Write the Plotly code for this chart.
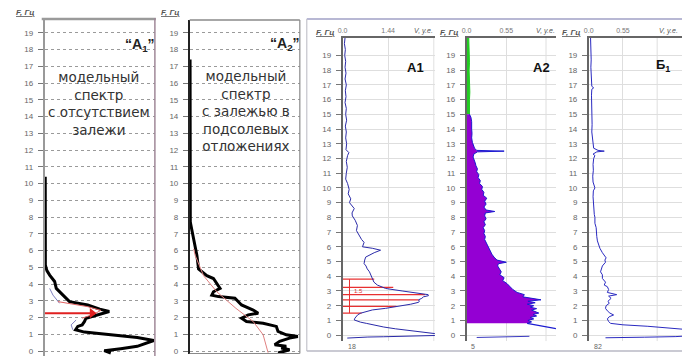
import plotly.graph_objects as go

W, H = 682, 358
def px(x): return x / W
def py(y): return 1 - y / H

FONT = "Liberation Sans, Arial, sans-serif"
F_TICKS = list(range(20))

# ---- Model spectrum "A1" (V relative, F Hz)
a1m_F = [10.4, 5.12, 4.8, 4.53, 4.15, 3.95, 3.74, 3.44, 2.95, 2.75, 2.5, 2.36, 2.16, 1.96, 1.75, 1.56, 1.47, 1.27, 1.13, 0.93, 0.81, 0.63, 0.37, 0.28, 0.14, 0.02, -0.12]
a1m_V = [0.005, 0.006, 0.02, 0.045, 0.09, 0.10, 0.105, 0.15, 0.225, 0.39, 0.50, 0.586, 0.48, 0.375, 0.36, 0.34, 0.30, 0.28, 0.36, 0.69, 0.84, 0.99, 0.886, 0.84, 0.69, 0.54, 0.60]
a1m_red_F = [2.95, 2.65, 2.43, 2.21, 1.96]
a1m_red_V = [0.12, 0.39, 0.51, 0.45, 0.34]
a1m_blu1_F = [3.74, 3.34, 2.85]
a1m_blu1_V = [0.045, 0.075, 0.135]
a1m_blu2_F = [1.85, 1.56, 1.27]
a1m_blu2_V = [0.285, 0.24, 0.255]
a1m_arrow_F = [2.26, 2.26]
a1m_arrow_V = [0.0, 0.43]

# ---- Model spectrum "A2"
a2m_F = [17.4, 7.7, 6.9, 6.3, 5.7, 4.9, 4.5, 4.33, 3.74, 3.54, 3.34, 3.25, 3.15, 2.75, 2.45, 2.26, 2.16, 1.96, 1.76, 1.66, 1.47, 1.17, 0.97, 0.87, 0.77, 0.58, 0.37, 0.28, 0.18, 0.08, -0.12]
a2m_V = [0.004, 0.006, 0.03, 0.05, 0.066, 0.081, 0.156, 0.216, 0.276, 0.216, 0.201, 0.261, 0.411, 0.471, 0.577, 0.622, 0.532, 0.471, 0.516, 0.667, 0.787, 0.802, 0.877, 0.982, 0.907, 0.817, 0.772, 0.877, 0.832, 0.907, 0.802]
a2m_fit_F = [6.1, 5.7, 4.5, 3.54, 2.55, 1.76, 0.97, -0.1]
a2m_fit_V = [0.036, 0.051, 0.126, 0.246, 0.42, 0.577, 0.667, 0.712]

# ---- Observed A1
a1_F = [20.2, 19.8, 19.4, 19.0, 18.6, 18.2, 17.8, 17.4, 17.0, 16.6, 16.2, 15.8, 15.4, 15.0, 14.6, 14.2, 13.8, 13.4, 13.0, 12.6, 12.4, 12.2, 11.8, 11.4, 11.0, 10.6, 10.3, 9.9, 9.6, 9.26, 9.0, 8.6, 8.3, 8.1, 7.8, 7.45, 7.1, 6.78, 6.5, 6.3, 6.0, 5.9, 5.77, 5.6, 5.4, 5.3, 5.1, 4.86, 4.7, 4.5, 4.3, 4.07, 3.85, 3.6, 3.4, 3.17, 3.0, 2.84, 2.75, 2.68, 2.6, 2.5, 2.4, 2.3, 2.23, 2.1, 2.0, 1.82, 1.71, 1.6, 1.49, 1.38, 1.26, 1.15, 1.03, 0.95, 0.88, 0.8, 0.7, 0.55, 0.43, 0.35, 0.29, 0.2, 0.14, 0.08, -0.02, -0.06, -0.09, -0.11, -0.13, -0.15, -0.2]
a1_V = [0.08, 0.06, 0.09, 0.07, 0.10, 0.08, 0.11, 0.08, 0.12, 0.09, 0.11, 0.08, 0.12, 0.10, 0.13, 0.09, 0.12, 0.10, 0.13, 0.11, 0.20, 0.16, 0.12, 0.15, 0.12, 0.10, 0.16, 0.21, 0.18, 0.26, 0.22, 0.37, 0.30, 0.31, 0.40, 0.47, 0.44, 0.52, 0.60, 0.68, 0.63, 0.94, 1.20, 1.00, 0.80, 0.73, 0.70, 0.68, 0.74, 0.78, 0.85, 0.89, 0.94, 0.99, 1.10, 1.36, 1.88, 2.50, 2.70, 2.71, 2.55, 2.50, 2.40, 2.42, 2.40, 2.15, 1.88, 1.36, 0.94, 0.72, 0.57, 0.48, 0.42, 0.39, 0.37, 0.45, 0.57, 0.75, 0.94, 1.30, 1.67, 1.95, 2.19, 2.55, 2.85, 3.0, 3.0, 2.5, 1.9, 1.3, 0.8, 0.35, 0.15]
a1_red_F = [3.8, 3.25, 2.75, 2.4, 1.95, 1.5]
a1_red_V = [1.0, 1.6, 2.6, 2.4, 1.7, 0.6]

# ---- Observed A2
a2_green_F = [20.2, 19.5, 19.0, 18.5, 18.0, 17.5, 17.0, 16.5, 16.0, 15.5, 15.0]
a2_green_V = [0.03, 0.035, 0.03, 0.04, 0.035, 0.04, 0.035, 0.045, 0.04, 0.045, 0.04]
a2_F = [15.0, 14.8, 14.5, 14.2, 14.0, 13.7, 13.4, 13.1, 12.9, 12.7, 12.55, 12.5, 12.45, 12.3, 12.1, 11.9, 11.7, 11.5, 11.3, 11.1, 10.9, 10.7, 10.5, 10.3, 10.1, 9.9, 9.7, 9.5, 9.3, 9.1, 8.9, 8.7, 8.5, 8.4, 8.3, 8.1, 7.9, 7.7, 7.5, 7.3, 7.1, 6.9, 6.7, 6.5, 6.3, 6.1, 5.9, 5.7, 5.5, 5.3, 5.1, 4.95, 4.85, 4.7, 4.5, 4.3, 4.1, 3.9, 3.7, 3.5, 3.3, 3.1, 2.9, 2.75, 2.6, 2.5, 2.4, 2.3, 2.2, 2.1, 2.0, 1.9, 1.8, 1.7, 1.6, 1.5, 1.4, 1.3, 1.2, 1.1, 1.0, 0.9, 0.8]
a2_V = [0.04, 0.06, 0.07, 0.065, 0.07, 0.075, 0.07, 0.08, 0.09, 0.11, 0.14, 0.52, 0.15, 0.10, 0.09, 0.11, 0.12, 0.13, 0.15, 0.14, 0.17, 0.16, 0.19, 0.18, 0.22, 0.21, 0.24, 0.23, 0.28, 0.25, 0.27, 0.24, 0.27, 0.39, 0.26, 0.25, 0.27, 0.24, 0.26, 0.23, 0.25, 0.24, 0.26, 0.25, 0.27, 0.28, 0.30, 0.32, 0.35, 0.38, 0.42, 0.55, 0.44, 0.43, 0.45, 0.48, 0.46, 0.52, 0.50, 0.56, 0.60, 0.64, 0.70, 0.80, 0.78, 0.90, 1.03, 0.85, 0.95, 0.84, 0.93, 0.88, 0.97, 0.90, 0.95, 1.00, 0.92, 0.97, 0.88, 0.93, 0.85, 0.90, 0.84]
a2_low_F = [0.8, 0.7, 0.6, 0.5, 0.4, 0.3]
a2_low_V = [0.84, 0.95, 1.08, 1.18, 1.30, 1.40]
a2_zero_F = [-0.08, -0.1, -0.12, -0.14, -0.15, -0.16]
a2_zero_V = [0.87, 0.7, 0.55, 0.4, 0.25, 0.14]

# ---- Observed B1
b1_F = [20.2, 19.7, 19.2, 18.7, 18.2, 17.7, 17.2, 16.9, 16.8, 16.7, 16.3, 15.8, 15.3, 14.8, 14.3, 13.8, 13.3, 12.9, 12.7, 12.55, 12.5, 12.45, 12.3, 12.2, 12.0, 11.6, 11.2, 10.8, 10.4, 10.0, 9.8, 9.4, 9.0, 8.6, 8.2, 8.0, 7.6, 7.3, 7.0, 6.7, 6.4, 6.1, 5.9, 5.6, 5.4, 5.25, 5.1, 4.95, 4.7, 4.5, 4.3, 4.1, 3.85, 3.6, 3.4, 3.29, 3.1, 2.9, 2.75, 2.65, 2.5, 2.3, 2.16, 2.0, 1.82, 1.65, 1.5, 1.37, 1.25, 1.1, 0.93, 0.8, 0.7, 0.6, 0.5, 0.4, 0.3, 0.0, -0.1, -0.14, -0.16, -0.18]
b1_V = [0.03, 0.035, 0.03, 0.04, 0.035, 0.04, 0.045, 0.05, 0.08, 0.05, 0.045, 0.05, 0.045, 0.05, 0.055, 0.05, 0.06, 0.065, 0.08, 0.15, 0.25, 0.13, 0.07, 0.10, 0.08, 0.07, 0.075, 0.065, 0.07, 0.10, 0.075, 0.07, 0.075, 0.08, 0.09, 0.10, 0.10, 0.12, 0.12, 0.13, 0.14, 0.165, 0.18, 0.22, 0.25, 0.28, 0.26, 0.27, 0.22, 0.20, 0.19, 0.22, 0.22, 0.27, 0.25, 0.30, 0.32, 0.30, 0.45, 0.32, 0.36, 0.31, 0.33, 0.28, 0.27, 0.30, 0.34, 0.40, 0.33, 0.30, 0.32, 0.35, 0.55, 0.95, 1.30, 1.60, 1.80, 1.80, 1.40, 0.90, 0.50, 0.27]

fig = go.Figure()

def line(x, y, ax, color, width, **kw):
    fig.add_trace(go.Scatter(x=x, y=y, xaxis="x" + ax, yaxis="y" + ax, mode="lines",
                             line=dict(color=color, width=width), hoverinfo="skip",
                             showlegend=False, **kw))

# panel 1
line(a1m_blu1_V, a1m_blu1_F, "", "#8080c0", 1)
line(a1m_blu2_V, a1m_blu2_F, "", "#8080c0", 1)
line(a1m_V, a1m_F, "", "#000000", 3)
line(a1m_red_V, a1m_red_F, "", "#e06060", 1)
line(a1m_arrow_V, a1m_arrow_F, "", "#e02020", 2)
fig.add_trace(go.Scatter(x=[a1m_arrow_V[-1]], y=[a1m_arrow_F[-1]], xaxis="x", yaxis="y",
                         mode="markers", marker=dict(symbol="triangle-right", size=9, color="#e02020"),
                         hoverinfo="skip", showlegend=False))
# panel 2
line(a2m_V, a2m_F, "2", "#000000", 3)
line(a2m_fit_V, a2m_fit_F, "2", "#e08080", 1)
# panel 3
rx, ry = [], []
for f, v in zip(a1_red_F, a1_red_V):
    rx += [0, v, None]; ry += [f, f, None]
line(rx, ry, "3", "#e83030", 1.2)
line([0.22, 0.22], [1.5, 3.8], "3", "#e83030", 1)
line(a1_V, a1_F, "3", "#2a2aa8", 1)
# panel 4
line(a2_green_V, a2_green_F, "4", "#22cc22", 1, fill="tozerox", fillcolor="#22cc22")
line(a2_V, a2_F, "4", "#1a1ad0", 1, fill="tozerox", fillcolor="#9400d3")
line(a2_low_V, a2_low_F, "4", "#1a1ad0", 1.2)
line(a2_zero_V, a2_zero_F, "4", "#3a3ac0", 1)
# panel 5
line(b1_V, b1_F, "5", "#2a2ac0", 1)

tickfont = dict(family=FONT, size=8, color="#666")

def yax(dom_bot, dom_top, rng, anchor, dotted, lcolor, lwidth):
    d = dict(domain=[py(dom_bot), py(dom_top)], range=rng, anchor=anchor,
             tickvals=F_TICKS, ticks="outside", ticklen=5, tickcolor="#777",
             ticklabelstandoff=3,
             tickfont=tickfont, showgrid=True, zeroline=False,
             showline=True, linecolor=lcolor, linewidth=lwidth)
    if dotted:
        d.update(gridcolor="#9a9a9a", griddash="dot", gridwidth=1)
    else:
        d.update(gridcolor="#dedede", gridwidth=1)
    return d

def xtop(x0, x1, rng, anchor, vals, texts):
    return dict(domain=[px(x0), px(x1)], range=rng, anchor=anchor, side="top",
                tickvals=vals, ticktext=texts, ticks="", tickfont=dict(family=FONT, size=7, color="#777"),
                showgrid=True, gridcolor="#dedede", zeroline=False,
                showline=True, linecolor="#666", linewidth=1.5)

layout = dict(
    width=W, height=H, margin=dict(l=0, r=0, t=0, b=0),
    paper_bgcolor="white", plot_bgcolor="white", showlegend=False,
    xaxis=dict(domain=[px(40), px(151)], range=[0, 1], anchor="y", visible=False),
    yaxis=yax(358, 20, [-0.297, 19.77], "x", True, "#999", 2),
    xaxis2=dict(domain=[px(186), px(297)], range=[0, 1], anchor="y2", visible=False),
    yaxis2=yax(355.5, 20, [-0.148, 19.77], "x2", True, "#222", 1.5),
    xaxis3=xtop(340, 433, [0, 2.911], "y3", [0, 1.44], ["0.0", "1.44"]),
    yaxis3=yax(343, 38, [-0.405, 20.2], "x3", False, "#666", 1.5),
    xaxis4=xtop(465, 555, [0, 1.2375], "y4", [0, 0.55], ["0.0", "0.55"]),
    yaxis4=yax(343, 38, [-0.405, 20.2], "x4", False, "#666", 1.5),
    xaxis5=xtop(588, 682, [0, 1.4986], "y5", [0, 0.55], ["0.0", "0.55"]),
    yaxis5=yax(343, 38, [-0.405, 20.2], "x5", False, "#666", 1.5),
)
fig.update_layout(**layout)

shapes = []
def seg(x0, y0, x1, y1, color, width):
    shapes.append(dict(type="line", xref="paper", yref="paper", x0=px(x0), y0=py(y0),
                       x1=px(x1), y1=py(y1), line=dict(color=color, width=width)))
# extra vertical gridlines (second grid step) in the observed panels
for xr, yr, v in [("x3", "y3", 2.88), ("x4", "y4", 1.1), ("x5", "y5", 1.1)]:
    shapes.append(dict(type="line", xref=xr, yref=yr + " domain", x0=v, x1=v, y0=0, y1=1,
                       line=dict(color="#dedede", width=1), layer="below"))
seg(304, 19, 682, 19, "#b8b8d4", 2)
seg(304, 19, 304, 353, "#c4c4cc", 1.2)
seg(304, 353, 682, 353, "#b8b8c4", 1.5)
seg(37, 19, 152, 19, "#9a9a9a", 2.5)
seg(151, 18, 151, 358, "#a08898", 1.5)
seg(186, 20, 297, 20, "#8a8a8a", 1.5)
seg(297, 20, 297, 355.5, "#8a8a8a", 1.2)
seg(186, 355.5, 297, 355.5, "#8a8a8a", 1.2)
fig.update_layout(shapes=shapes)

ann = []
def text(x, y, s, size=8, color="#555", family=FONT):
    ann.append(dict(x=px(x), y=py(y), xref="paper", yref="paper", text=s, showarrow=False,
                    xanchor="center", yanchor="middle",
                    font=dict(family=family, size=size, color=color)))

fl = "<u><b><i>F, Гц</i></b></u>"
text(21, 13, fl)
text(167, 13, fl)
text(323, 33, fl)
text(448, 33, fl)
text(571, 33, fl)
vl = "<i>V, у.е.</i>"
text(422, 31, vl, size=7)
text(544, 31, vl, size=7)
text(668, 31, vl, size=7)

text(136, 45, "<b>“А<sub>1</sub>”</b>", size=14, color="#222")
text(282, 44, "<b>“А<sub>2</sub>”</b>", size=14, color="#222")
text(95, 104, "модельный<br>спектр<br>с отсутствием<br>залежи", size=13.5, color="#333",
     family="DejaVu Sans, sans-serif")
text(243, 112, "модельный<br>спектр<br>с залежью в<br>подсолевых<br>отложениях", size=13.5,
     color="#333", family="DejaVu Sans, sans-serif")

text(414, 68, "<b>А1</b>", size=13, color="#111")
text(540, 68, "<b>А2</b>", size=13, color="#111")
text(663, 66, "<b>Б<sub>1</sub></b>", size=13, color="#111")

text(350, 348, "18", size=7, color="#666")
text(471, 348, "5", size=7, color="#666")
text(597, 348, "82", size=7, color="#666")
text(356, 293, "1.5", size=6, color="#e03030")

fig.update_layout(annotations=ann)

fig.write_html("out.html")
